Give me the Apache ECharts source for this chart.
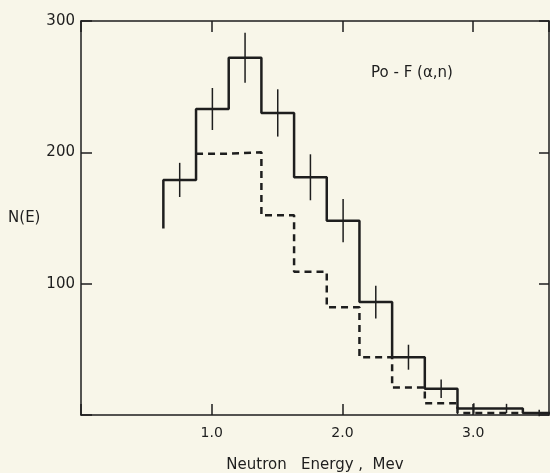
<!DOCTYPE html>
<html style="height: 100%">
<head>
<meta charset="utf-8">
<title>Po-F neutron spectrum</title>
</head>
<body style="height: 100%; margin: 0; background: #f8f6e9">
<div id="container" style="width: 550px; height: 473px"></div>
<script src="https://cdn.jsdelivr.net/npm/echarts@6/dist/echarts.min.js"></script>
<script>
// bin edges (Mev) and histogram values
var solidEdges = [0.63, 0.88, 1.13, 1.38, 1.63, 1.88, 2.13, 2.38, 2.63, 2.88, 3.13, 3.38, 3.63];
var solidStart = 142;
var solidValues = [179, 233, 272, 230, 181, 148, 86, 44, 20, 5, 5, 1.5];
var barCenters = [0.755, 1.005, 1.255, 1.505, 1.755, 2.005, 2.255, 2.505, 2.755, 3.005, 3.255, 3.505];
var barErrors = [13, 16, 19, 18, 17.5, 16.5, 12.5, 9.5, 7, 4, 3.5, 2.5];
var dashEdges = [0.88, 1.13, 1.38, 1.63, 1.88, 2.13, 2.38, 2.63, 2.88, 3.13, 3.38];
var dashValues = [199, 200, 152, 109, 82, 44, 21, 9, 1.5, 1.5];
var xTicks = [1.0, 2.0, 3.0];
var yTicks = [100, 200, 300];

function stepData(edges, values, start) {
    var pts = [];
    if (start != null) pts.push([edges[0], start]);
    for (var i = 0; i < values.length; i++) pts.push([edges[i], values[i]]);
    pts.push([edges[values.length], values[values.length - 1]]);
    return pts;
}

var ink = '#1e1e1e';
var font = 'DejaVu Sans';

var myChart = echarts.init(document.getElementById('container'));
var option = {
    backgroundColor: '#f8f6e9',
    animation: false,
    grid: { left: 81, right: 1, top: 21, bottom: 58, outerBoundsMode: 'none' },
    title: {
        text: 'Po - F (α,n)',
        left: 366,
        top: 61,
        textStyle: { color: ink, fontFamily: font, fontSize: 15, fontWeight: 'normal' }
    },
    xAxis: [{
        type: 'value', position: 'bottom', min: 0, max: 3.58, interval: 1,
        name: 'Neutron   Energy ,  Mev', nameLocation: 'middle', nameGap: 43,
        nameTextStyle: { color: ink, fontFamily: font, fontSize: 15 },
        axisLine: { onZero: false, lineStyle: { color: ink, width: 1.5 } },
        axisTick: { inside: true, length: 11, lineStyle: { color: ink, width: 1.5 } },
        axisLabel: {
            color: ink, fontFamily: font, fontSize: 14, margin: 11, showMaxLabel: false,
            formatter: function (v) { return xTicks.indexOf(v) >= 0 ? v.toFixed(1) : ''; }
        },
        splitLine: { show: false }
    }, {
        type: 'value', position: 'top', min: 0, max: 3.58, interval: 1,
        axisLine: { onZero: false, lineStyle: { color: ink, width: 1.5 } },
        axisTick: { inside: true, length: 11, lineStyle: { color: ink, width: 1.5 } },
        axisLabel: { show: false },
        splitLine: { show: false }
    }],
    yAxis: [{
        type: 'value', position: 'left', min: 0, max: 300, interval: 100,
        name: 'N(E)', nameLocation: 'middle', nameRotate: 0, nameGap: 38,
        nameTextStyle: { color: ink, fontFamily: font, fontSize: 15 },
        axisLine: { show: true, onZero: false, lineStyle: { color: ink, width: 1.5 } },
        axisTick: { show: true, inside: true, length: 11, lineStyle: { color: ink, width: 1.5 } },
        axisLabel: {
            color: ink, fontFamily: font, fontSize: 15, margin: 6,
            formatter: function (v) { return yTicks.indexOf(v) >= 0 ? String(v) : ''; }
        },
        splitLine: { show: false }
    }, {
        type: 'value', position: 'right', min: 0, max: 300, interval: 100,
        axisLine: { show: true, onZero: false, lineStyle: { color: ink, width: 1.5 } },
        axisTick: { show: true, inside: true, length: 10, lineStyle: { color: ink, width: 1.5 } },
        axisLabel: { show: false },
        splitLine: { show: false }
    }],
    series: [{
        name: 'total',
        type: 'line',
        step: 'end',
        symbol: 'none',
        data: stepData(solidEdges, solidValues, solidStart),
        lineStyle: { color: ink, width: 2.5 },
        z: 3
    }, {
        name: 'dashed',
        type: 'line',
        step: 'end',
        symbol: 'none',
        data: stepData(dashEdges, dashValues, null),
        lineStyle: { color: ink, width: 2.5, type: [7, 5] },
        z: 2
    }, {
        name: 'errors',
        type: 'custom',
        data: barCenters.map(function (c, i) { return [c, solidValues[i], barErrors[i]]; }),
        renderItem: function (params, api) {
            var x = api.value(0), v = api.value(1), e = api.value(2);
            var p1 = api.coord([x, v - e]);
            var p2 = api.coord([x, v + e]);
            return {
                type: 'line',
                shape: { x1: p1[0], y1: p1[1], x2: p2[0], y2: p2[1] },
                style: { stroke: ink, lineWidth: 1.5 }
            };
        },
        z: 4
    }]
};
myChart.setOption(option);
</script>
</body>
</html>
